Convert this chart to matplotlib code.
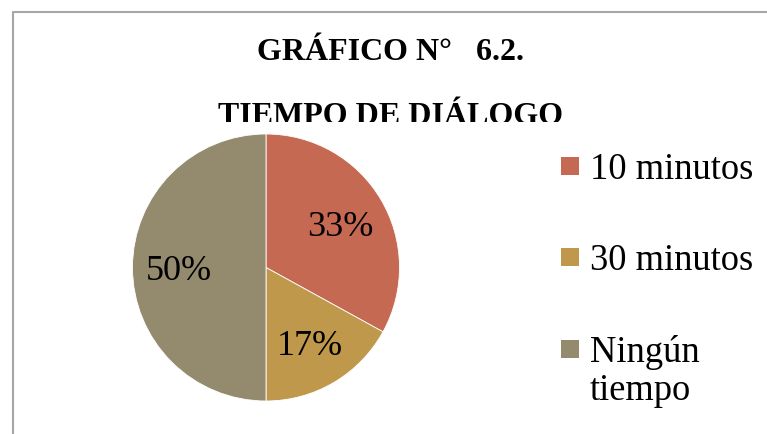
import matplotlib.pyplot as plt
from matplotlib.patches import Rectangle
from matplotlib.lines import Line2D

# data
categories = ['10 minutos', '30 minutos', 'Ningún\ntiempo']
percentages = [33, 17, 50]
COLORS = ['#C56952', '#BF984C', '#948B6E']

W, H = 767, 434
plt.rcParams['font.family'] = ['Liberation Serif', 'DejaVu Serif']

fig = plt.figure(figsize=(W / 100, H / 100), dpi=100)

def fx(px):
    return px / W

def fy(py):
    return 1 - py / H

# title (partly hidden behind the plot area, as in the original)
fig.text(fx(391), fy(60), 'GRÁFICO N°   6.2.', ha='center', va='baseline',
         fontsize=23, fontweight='bold', zorder=0.5)
fig.text(fx(391), fy(124), 'TIEMPO DE DIÁLOGO', ha='center', va='baseline',
         fontsize=23, fontweight='bold', zorder=0.5)
fig.patches.append(Rectangle((fx(14), 0), 1, fy(122), transform=fig.transFigure,
                             facecolor='white', edgecolor='none', zorder=0.8))

# chart border
fig.add_artist(Line2D([fx(12.5), fx(12.5), 1], [0, fy(11.5), fy(11.5)],
                      transform=fig.transFigure, color='#A6A6A6', lw=1.5, zorder=1))

# pie
r = 133.5
cx, cy = 266, 267.5
ax = fig.add_axes([fx(cx - r), fy(cy + r), 2 * r / W, 2 * r / H], zorder=2)
ax.patch.set_alpha(0)
wedges, texts = ax.pie(percentages, colors=COLORS, startangle=90, counterclock=False,
                       radius=1, labels=[f'{p}%' for p in percentages], labeldistance=0.65,
                       wedgeprops={'edgecolor': 'white', 'linewidth': 0.6},
                       textprops={'fontsize': 26, 'ha': 'center', 'va': 'center_baseline'})
ax.set_xlim(-1, 1)
ax.set_ylim(-1, 1)
ax.set_aspect('equal')
ax.axis('off')

# legend
entry_y = [179, 270, 362]
for lab, col, yb in zip(categories, COLORS, entry_y):
    fig.patches.append(Rectangle((fx(561), fy(yb - 4)), 18 / W, 18 / H,
                                 transform=fig.transFigure, facecolor=col,
                                 edgecolor='none', zorder=3))
    lines = lab.split('\n')
    for k, line in enumerate(lines):
        fig.text(fx(590), fy(yb + 38 * k), line, ha='left', va='baseline',
                 fontsize=26.3, zorder=3)

fig.savefig('out.png', dpi=100, facecolor='white')
